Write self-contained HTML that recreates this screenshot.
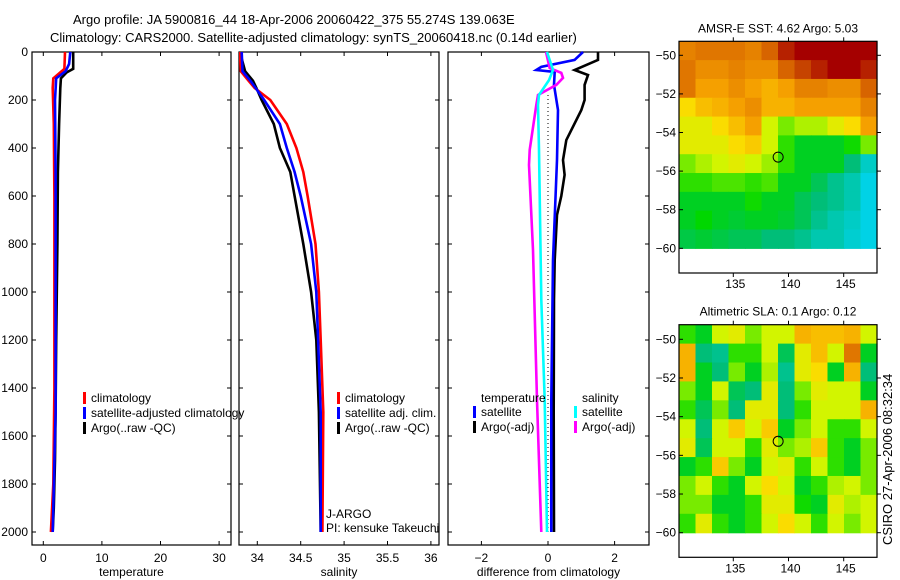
<!DOCTYPE html>
<html><head><meta charset="utf-8"><style>
html,body{margin:0;padding:0;background:#fff;}
svg{display:block;font-family:"Liberation Sans",sans-serif;}
</style></head><body>
<svg id="fig" width="900" height="580" viewBox="0 0 900 580">
<text x="73" y="24" font-size="13">Argo profile: JA 5900816_44 18-Apr-2006 20060422_375 55.274S 139.063E</text>
<text x="50" y="42" font-size="13">Climatology: CARS2000. Satellite-adjusted climatology: synTS_20060418.nc (0.14d earlier)</text>
<g id="g"></g>
<text transform="translate(892,545) rotate(-90)" font-size="13">CSIRO 27-Apr-2006 08:32:34</text>
</svg>
<script>
// ---------- data ----------
const tempArgoDepth=[0,70,85,110,150,300,500,800,1000,1200,1500,1700,1900,2000];
const tempArgo=[5.1,5.1,4.0,3.0,2.9,2.7,2.5,2.4,2.3,2.2,2.1,2.0,1.8,1.6];
const tempClimDepth=[0,70,110,150,300,600,1000,1400,1800,2000];
const tempClim=[3.7,3.6,1.7,1.6,1.8,1.9,1.9,1.9,1.7,1.3];
const tempSatDepth=[0,50,80,110,200,500,1000,1500,2000];
const tempSat=[4.6,4.4,3.8,2.2,2.0,2.1,2.1,2.1,1.6];
const salDepth=[0,80,120,150,200,300,400,500,600,800,1000,1200,1500,2000];
const salArgo=[33.80,33.86,33.95,33.99,34.05,34.19,34.26,34.38,34.43,34.53,34.62,34.68,34.71,34.73];
const salClim=[33.80,33.81,33.9,33.97,34.15,34.34,34.45,34.53,34.58,34.67,34.71,34.73,34.76,34.75];
const salSat=[33.82,33.83,33.92,33.98,34.08,34.26,34.34,34.43,34.50,34.62,34.68,34.70,34.73,34.73];
const dTempArgoDepth=[0,33,75,96,137,200,242,367,450,512,600,679,867,1033,1500,2000];
const dTempArgo=[1.5,1.5,0.8,1.2,1.1,1.1,1.0,0.55,0.45,0.5,0.4,0.27,0.2,0.18,0.17,0.18];
const dTempSatDepth=[0,33,62,75,83,137,242,450,867,1450,2000];
const dTempSat=[1.05,0.8,-0.2,-0.35,0.2,0.18,0.3,0.27,0.15,0.1,0.1];
const dSalArgoDepth=[0,67,87,108,137,179,221,408,471,825,1450,2000];
const dSalArgo=[-0.06,0.05,0.4,0.45,0.25,-0.3,-0.35,-0.55,-0.57,-0.45,-0.33,-0.2];
const dSalSatDepth=[0,75,117,179,221,408,1033,1450,2000];
const dSalSat=[-0.03,0.15,0.03,-0.27,-0.3,-0.27,-0.2,-0.1,-0.03];
const depthTicks=[0,200,400,600,800,1000,1200,1400,1600,1800,2000];
const tempTicks=[0,10,20,30];
const salTicks=[34,34.5,35,35.5,36];
const diffTicks=[-2,0,2];
const latTicks=[-50,-52,-54,-56,-58,-60];
const lonTicks=[135,140,145];
const sstGrid=[
[.8,.82,.82,.82,.8,.85,.95,1,1,1,1,1],
[.82,.78,.78,.8,.78,.78,.85,.9,.95,1,1,.95],
[.82,.75,.75,.78,.75,.72,.75,.8,.8,.78,.78,.85],
[.65,.7,.72,.75,.78,.72,.72,.75,.75,.75,.75,.8],
[.62,.62,.65,.7,.75,.6,.55,.58,.58,.62,.65,.75],
[.62,.62,.62,.65,.68,.6,.5,.45,.45,.45,.48,.55],
[.55,.58,.6,.62,.6,.57,.5,.45,.45,.45,.4,.33],
[.5,.5,.52,.52,.5,.52,.45,.45,.42,.38,.35,.3],
[.45,.45,.45,.45,.48,.45,.45,.42,.4,.38,.35,.3],
[.45,.47,.45,.44,.45,.45,.44,.42,.38,.35,.33,.3],
[.43,.44,.43,.42,.42,.4,.4,.38,.35,.35,.32,.3]];
const slaGrid=[
[.5,.45,.6,.62,.55,.6,.6,.72,.7,.7,.72,.6],
[.72,.4,.38,.5,.5,.6,.42,.62,.7,.6,.82,.45],
[.72,.45,.4,.55,.45,.58,.38,.62,.65,.45,.72,.4],
[.55,.45,.6,.42,.4,.62,.4,.55,.62,.6,.6,.45],
[.5,.42,.55,.4,.62,.62,.4,.5,.6,.6,.6,.72],
[.6,.4,.6,.68,.6,.68,.45,.55,.6,.5,.5,.6],
[.62,.42,.6,.6,.5,.62,.55,.58,.68,.5,.45,.55],
[.45,.5,.68,.55,.45,.6,.62,.5,.6,.5,.45,.55],
[.55,.6,.5,.45,.6,.65,.6,.45,.5,.58,.6,.55],
[.55,.55,.45,.45,.5,.62,.62,.48,.45,.62,.58,.6],
[.5,.62,.5,.45,.5,.6,.65,.6,.5,.6,.55,.6]];
const argoLon=139.063, argoLat=-55.274;

// ---------- helpers ----------
const NS="http://www.w3.org/2000/svg";
const G=document.getElementById('g');
function mk(tag,attrs,parent){const e=document.createElementNS(NS,tag);for(const k in attrs)e.setAttribute(k,attrs[k]);(parent||G).appendChild(e);return e;}
const yD=d=>52+d*0.24;
const TOP=52,BOT=545;

function panel(x0,x1,xs,ticks,fmt,title,name){
  const r=mk('rect',{x:x0,y:TOP,width:x1-x0,height:BOT-TOP,fill:'none',stroke:'#000','stroke-width':1.2});
  
  
  depthTicks.forEach(d=>{
    const y=yD(d);
    mk('line',{x1:x0,x2:x0+4,y1:y,y2:y,stroke:'#000'});
    mk('line',{x1:x1-4,x2:x1,y1:y,y2:y,stroke:'#000'});
  });
  ticks.forEach(v=>{
    const x=xs(v);
    mk('line',{x1:x,x2:x,y1:BOT,y2:BOT-4,stroke:'#000'});
    mk('line',{x1:x,x2:x,y1:TOP,y2:TOP+4,stroke:'#000'});
    const t=mk('text',{x:x,y:562,'font-size':12,'text-anchor':'middle'});
    t.textContent=fmt(v);
    
    
  });
  const tt=mk('text',{x:(x0+x1)/2,y:576,'font-size':12,'text-anchor':'middle'});
  tt.textContent=title;
  
  
}
function line(xs,vals,depths,color,name,w){
  const pts=vals.map((v,i)=>xs(v).toFixed(1)+','+yD(depths[i]).toFixed(1)).join(' ');
  const p=mk('polyline',{points:pts,fill:'none',stroke:color,'stroke-width':w||2.6,'stroke-linejoin':'miter'});
  
  
}
function legend(x,y,color,label,name){
  if(color) mk('rect',{x:x,y:y-10,width:3,height:12,fill:color});
  const t=mk('text',{x:x+8,y:y,'font-size':12});
  t.textContent=label;
  
  
}

// depth labels
depthTicks.forEach(d=>{
  const t=mk('text',{x:28,y:yD(d)+4,'font-size':12,'text-anchor':'end'});
  t.textContent=d;
  
  
});

// panel 1 temperature
const xT=v=>43.3+v*5.86;
panel(32,231,xT,tempTicks,v=>String(v),'temperature','temperature-panel');
line(xT,tempArgo,tempArgoDepth,'#000','temp-argo-line');
line(xT,tempClim,tempClimDepth,'#f00','temp-climatology-line');
line(xT,tempSat,tempSatDepth,'#00f','temp-satellite-line');
legend(83,402,'#f00','climatology','legend-climatology');
legend(83,417,'#00f','satellite-adjusted climatology','legend-satellite-adjusted');
legend(83,432,'#000','Argo(..raw -QC)','legend-argo');

// panel 2 salinity
const xS=v=>257.3+(v-34)*86.8;
const clip=mk('clipPath',{id:'c2'});mk('rect',{x:239,y:TOP,width:200,height:BOT-TOP},clip);
panel(239,439,xS,salTicks,v=>String(v),'salinity','salinity-panel');
const g2=mk('g',{'clip-path':'url(#c2)'});
const oldG=G;
[[salArgo,'#000','sal-argo-line'],[salClim,'#f00','sal-climatology-line'],[salSat,'#00f','sal-satellite-line']].forEach(s=>{
  const pts=s[0].map((v,i)=>xS(v).toFixed(1)+','+yD(salDepth[i]).toFixed(1)).join(' ');
  const p=mk('polyline',{points:pts,fill:'none',stroke:s[1],'stroke-width':2.6},g2);
  
  
});
legend(337,402,'#f00','climatology','legend-sal-climatology');
legend(337,417,'#00f','satellite adj. clim.','legend-sal-satellite');
legend(337,432,'#000','Argo(..raw -QC)','legend-sal-argo');
legend(318,518,null,'J-ARGO','j-argo-label');
legend(318,532,null,'PI: kensuke Takeuchi','pi-label');

// panel 3 difference
const xF=v=>548+v*33.3;
panel(448,649,xF,diffTicks,v=>v<0?'\u2212'+Math.abs(v):String(v),'difference from climatology','difference-panel');
const zl=mk('line',{x1:xF(0),x2:xF(0),y1:95,y2:532,stroke:'#000','stroke-dasharray':'1,3'});


line(xF,dTempArgo,dTempArgoDepth,'#000','diff-temp-argo-line');
line(xF,dTempSat,dTempSatDepth,'#00f','diff-temp-satellite-line');
line(xF,dSalArgo,dSalArgoDepth,'#f0f','diff-sal-argo-line');
line(xF,dSalSat,dSalSatDepth,'#0ff','diff-sal-satellite-line');
legend(473,402,null,'temperature','legend-temperature-header');
legend(473,416,'#00f','satellite','legend-diff-temp-satellite');
legend(473,431,'#000','Argo(-adj)','legend-diff-temp-argo');
legend(574,402,null,'salinity','legend-salinity-header');
legend(574,416,'#0ff','satellite','legend-diff-sal-satellite');
legend(574,431,'#f0f','Argo(-adj)','legend-diff-sal-argo');

// ---------- maps ----------
function cmap(v){
  const stops=[[0.3,[0,210,230]],[0.4,[0,190,120]],[0.47,[0,215,0]],[0.55,[120,235,0]],[0.6,[210,245,0]],[0.65,[250,220,0]],[0.75,[245,160,0]],[0.85,[215,100,0]],[1,[165,0,0]]];
  if(v<=stops[0][0])return 'rgb('+stops[0][1]+')';
  for(let i=1;i<stops.length;i++){if(v<=stops[i][0]){const a=stops[i-1],b=stops[i],t=(v-a[0])/(b[0]-a[0]);return 'rgb('+a[1].map((c,k)=>Math.round(c+(b[1][k]-c)*t)).join(',')+')';}}
  return 'rgb('+stops[stops.length-1][1]+')';
}
function map(top,lat50y,lat60y,bottom,grid,title,name){
  const x0=679,x1=877;
  const lonX=l=>733.3+(l-135)*11.04;
  const latY=l=>lat50y+(-50-l)*(lat60y-lat50y)/10;
  const rows=grid.length,cols=grid[0].length;
  const cw=(x1-x0)/cols,ch=(lat60y-top)/rows;
  grid.forEach((row,r)=>row.forEach((v,c)=>{
    const cell=mk('rect',{x:x0+c*cw,y:top+r*ch,width:cw+0.6,height:ch+0.6,fill:cmap(v)});
    
    
  }));
  const fr=mk('rect',{x:x0,y:top,width:x1-x0,height:bottom-top,fill:'none',stroke:'#000','stroke-width':1.2});
  
  
  latTicks.forEach(l=>{
    const y=latY(l);
    mk('line',{x1:x0,x2:x0+4,y1:y,y2:y,stroke:'#000'});
    mk('line',{x1:x1,x2:x1+4,y1:y,y2:y,stroke:'#000'});
    const t=mk('text',{x:676,y:y+4,'font-size':12,'text-anchor':'end'});
    t.textContent='\u2212'+Math.abs(l);
    
    
  });
  lonTicks.forEach(l=>{
    const x=lonX(l);
    mk('line',{x1:x,x2:x,y1:top,y2:top-4,stroke:'#000'});
    mk('line',{x1:x,x2:x,y1:bottom,y2:bottom+4,stroke:'#000'});
    const t=mk('text',{x:x+2,y:bottom+15,'font-size':12,'text-anchor':'middle'});
    t.textContent=l;
    
    
  });
  const c=mk('circle',{cx:lonX(argoLon),cy:latY(argoLat),r:5,fill:'none',stroke:'#000','stroke-width':1});
  
  
  const t=mk('text',{x:778,y:top-9,'font-size':12,'text-anchor':'middle'});
  t.textContent=title;
  
  
}
map(41.3,55.3,248.3,273,sstGrid,'AMSR-E SST: 4.62 Argo: 5.03','sst-map');
map(324.7,339.3,532.7,557.3,slaGrid,'Altimetric SLA: 0.1 Argo: 0.12','sla-map');
</script>
</body></html>
